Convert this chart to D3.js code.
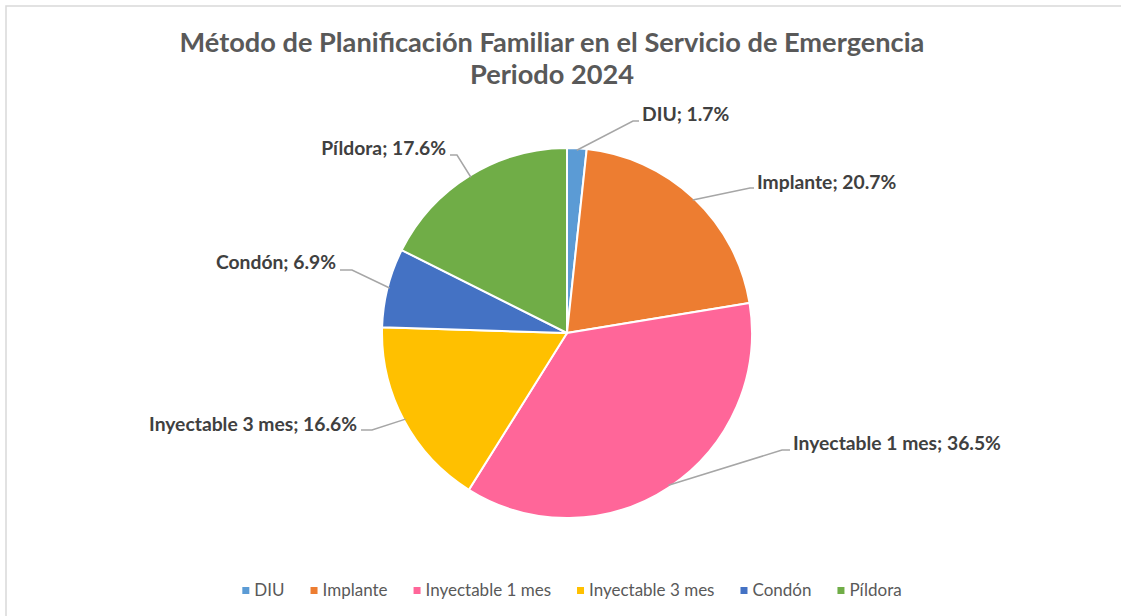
<!DOCTYPE html>
<html>
<head>
<meta charset="utf-8">
<script src="https://cdn.jsdelivr.net/npm/d3@7/dist/d3.min.js"></script>
<style>
  body { margin: 0; background: #fff; }
  svg { display: block; font-family: Lato, "Open Sans", sans-serif; }
</style>
</head>
<body>
<div id="chart"></div>
<script>
// data
var categories = ["DIU", "Implante", "Inyectable 1 mes", "Inyectable 3 mes", "Condón", "Píldora"];
var percents   = [1.7, 20.7, 36.5, 16.6, 6.9, 17.6];
var colors     = ["#5B9BD5", "#ED7D31", "#FF6699", "#FFC000", "#4472C4", "#70AD47"];
var titleLines = ["Método de Planificación Familiar en el Servicio de Emergencia", "Periodo 2024"];

// label placement: text anchor point and leader elbow (layout only)
var labelPos = [
  {x: 642, y: 121, anchor: "start", ex: 633, ey: 121},
  {x: 757, y: 189, anchor: "start", ex: 750, ey: 188},
  {x: 793, y: 450, anchor: "start", ex: 782, ey: 450},
  {x: 357, y: 431, anchor: "end",   ex: 372, ey: 430},
  {x: 336, y: 269, anchor: "end",   ex: 352, ey: 270},
  {x: 446, y: 155, anchor: "end",   ex: 457, ey: 155}
];

var width = 1121, height = 616
  , cx = 567, cy = 333, r = 185;

var svg = d3.select("#chart").append("svg").attr("width", width).attr("height", height);

// chart border
svg.append("rect").attr("x", 6).attr("y", 6).attr("width", width + 20).attr("height", height + 20)
   .attr("fill", "#fff").attr("stroke", "#D9D9D9").attr("stroke-width", 1.5);

svg.append("g").selectAll("text").data(titleLines).join("text")
   .attr("x", 552).attr("y", function (d, i) { return 52 + i * 32; })
   .attr("text-anchor", "middle").attr("font-weight", 700).attr("font-size", 27.2)
   .attr("fill", "#595959").text(function (d) { return d; });

var pie = d3.pie().sort(null).value(function (d) { return d; })
  , arc = d3.arc().innerRadius(0).outerRadius(r)
  , arcs = pie(percents);

var g = svg.append("g").attr("transform", "translate(" + cx + "," + cy + ")");

g.selectAll("path").data(arcs).join("path")
 .attr("d", arc).attr("fill", function (d, i) { return colors[i]; })
 .attr("stroke", "#fff").attr("stroke-width", 2);

// leader lines
g.selectAll("polyline").data(arcs).join("polyline")
 .attr("fill", "none").attr("stroke", "#A6A6A6").attr("stroke-width", 1.5)
 .attr("points", function (d, i) {
    var a = (d.startAngle + d.endAngle) / 2
      , p = labelPos[i]
      , x0 = Math.sin(a) * (r - 2), y0 = -Math.cos(a) * (r - 2)
      , hx = p.anchor == "start" ? p.x - 3 : p.x + 4;
    return [[x0, y0], [p.ex - cx, p.ey - cy], [hx - cx, p.ey - cy]].join(" ");
 });

svg.append("g").selectAll("text").data(arcs).join("text")
   .attr("x", function (d, i) { return labelPos[i].x; })
   .attr("y", function (d, i) { return labelPos[i].y; })
   .attr("text-anchor", function (d, i) { return labelPos[i].anchor; })
   .attr("font-weight", 700).attr("font-size", 19.3).attr("fill", "#404040")
   .text(function (d, i) { return categories[i] + "; " + d3.format(".1f")(percents[i]) + "%"; });

// legend, laid out left to right and centered
var legend = svg.append("g");
var items = legend.selectAll("g").data(categories).join("g");
items.append("rect").attr("width", 7).attr("height", 7).attr("y", -9)
     .attr("fill", function (d, i) { return colors[i]; });
items.append("text").attr("x", 12).attr("y", 0).attr("font-size", 17).attr("fill", "#595959")
     .text(function (d) { return d; });
var gap = 26, xoff = 0;
items.each(function () {
  var w = this.getBBox().width;
  d3.select(this).attr("transform", "translate(" + xoff + ",0)");
  xoff += w + gap;
});
legend.attr("transform", "translate(" + (572 - (xoff - gap) / 2) + ",596)");
</script>
</body>
</html>
